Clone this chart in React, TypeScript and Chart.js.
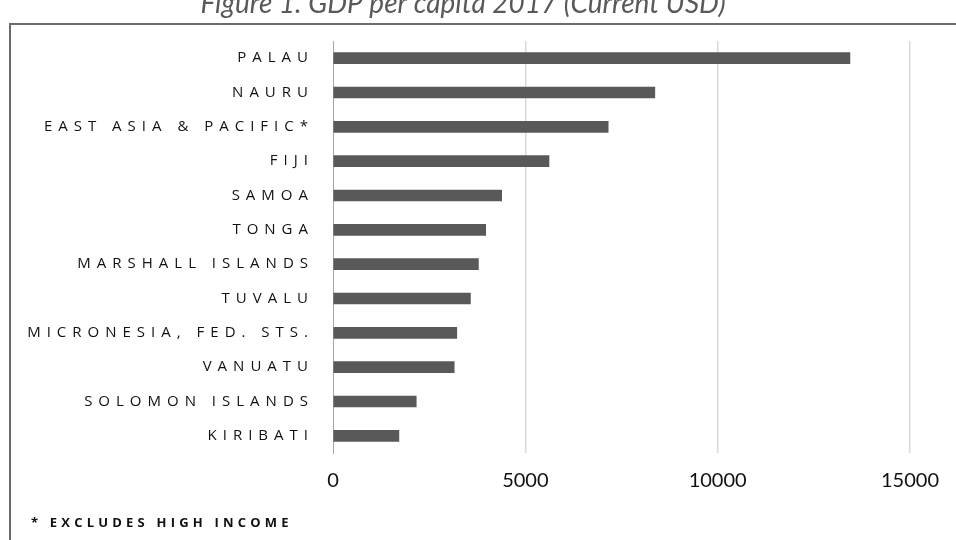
import React, { useEffect, useRef } from "react";
import { Chart, registerables } from "chart.js";

Chart.register(...registerables);

const categories = [
  "PALAU",
  "NAURU",
  "EAST ASIA & PACIFIC*",
  "FIJI",
  "SAMOA",
  "TONGA",
  "MARSHALL ISLANDS",
  "TUVALU",
  "MICRONESIA, FED. STS.",
  "VANUATU",
  "SOLOMON ISLANDS",
  "KIRIBATI",
];
const gdpPerCapita = [13438, 8366, 7154, 5615, 4385, 3970, 3780, 3573, 3218, 3150, 2164, 1713];
const xTicks = [0, 5000, 10000, 15000];
const titleText = "Figure 1. GDP per capita 2017 (Current USD)";
const footnoteText = "* EXCLUDES HIGH INCOME";

const decorPlugin = {
  id: "decor",
  afterLayout(chart: any) {
    const s = chart.scales.y;
    if (s && !s.__spaced) {
      const orig = Object.getPrototypeOf(s).drawLabels;
      s.drawLabels = function (area: any) {
        const ctx = this.ctx;
        ctx.save();
        ctx.letterSpacing = "6px";
        orig.call(this, area);
        ctx.restore();
      };
      s.__spaced = true;
    }
  },
  beforeDraw(chart: any) {
    const ctx = chart.ctx;
    ctx.save();
    ctx.fillStyle = "#ffffff";
    ctx.fillRect(0, 0, chart.width, chart.height);
    ctx.strokeStyle = "#6b6b6b";
    ctx.lineWidth = 2;
    ctx.beginPath();
    ctx.moveTo(10, chart.height + 2);
    ctx.lineTo(10, 24);
    ctx.lineTo(chart.width + 2, 24);
    ctx.stroke();
    ctx.restore();
  },
  afterDraw(chart: any) {
    const ctx = chart.ctx;
    ctx.save();
    ctx.fillStyle = "#595959";
    ctx.font = "italic 28px Lato";
    ctx.textAlign = "center";
    ctx.textBaseline = "alphabetic";
    ctx.fillText(titleText, 463, 13);
    ctx.fillStyle = "#111111";
    ctx.font = "bold 13px 'Open Sans'";
    ctx.textAlign = "left";
    ctx.textBaseline = "middle";
    ctx.letterSpacing = "4.2px";
    ctx.fillText(footnoteText, 31, 523);
    ctx.restore();
  },
};

export default function App() {
  const ref = useRef<HTMLCanvasElement | null>(null);
  useEffect(() => {
    if (!ref.current) return;
    const chart = new Chart(ref.current, {
      type: "bar",
      data: {
        labels: categories,
        datasets: [
          {
            data: gdpPerCapita,
            backgroundColor: "#595959",
            borderWidth: 0,
            barThickness: 11,
          },
        ],
      },
      options: {
        indexAxis: "y",
        responsive: false,
        animation: false,
        layout: { padding: { left: 0, right: 46, top: 41, bottom: 0 } },
        plugins: {
          legend: { display: false },
          title: { display: false },
          tooltip: { enabled: false },
        },
        scales: {
          x: {
            type: "linear",
            min: 0,
            max: 15000,
            afterBuildTicks: (scale: any) => {
              scale.ticks = xTicks.map((v) => ({ value: v }));
            },
            afterFit: (scale: any) => {
              scale.height = 87;
            },
            grid: {
              drawTicks: false,
              lineWidth: 1.5,
              color: (c: any) => (c.tick && c.tick.value === 0 ? "rgba(0,0,0,0)" : "#d9d9d9"),
            },
            border: { display: false },
            ticks: {
              padding: 16,
              color: "#111111",
              font: { family: "Lato", size: 20 },
              callback: (v: any) => String(v),
            },
          },
          y: {
            type: "category",
            afterFit: (scale: any) => {
              scale.width = 333;
            },
            grid: { display: false, drawTicks: false },
            border: { display: true, color: "#a6a6a6", width: 1 },
            ticks: {
              padding: 19,
              color: "#111111",
              font: { family: "'Open Sans'", size: 15 },
              autoSkip: false,
            },
          },
        },
      },
      plugins: [decorPlugin],
    } as any);
    return () => chart.destroy();
  }, []);
  return (
    <div style={{ position: "fixed", left: 0, top: 0, width: 956, height: 540 }}>
      <canvas ref={ref} width={956} height={540} style={{ display: "block" }} />
    </div>
  );
}
